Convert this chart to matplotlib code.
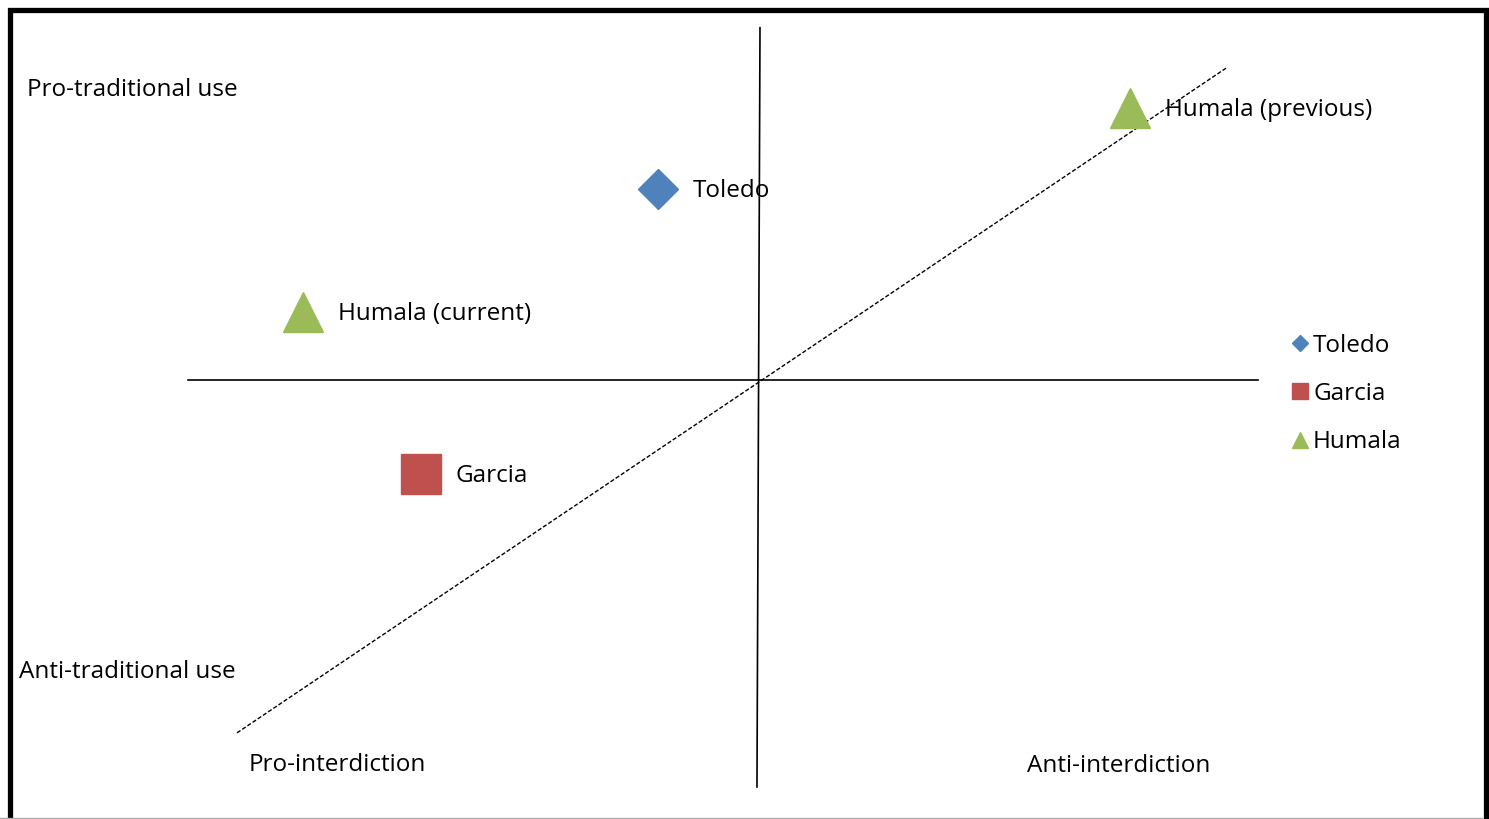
import matplotlib.pyplot as plt
from matplotlib.patches import Rectangle

# series values (chart units, origin where the two axes cross)
toledo_x = [-1.75]
toledo_y = [3.35]
garcia_x = [-5.91]
garcia_y = [-1.65]
humala_x = [-7.98, 6.53]
humala_y = [1.19, 4.77]

point_labels = ["Toledo", "Garcia", "Humala (current)", "Humala (previous)"]
point_x = toledo_x + garcia_x + humala_x
point_y = toledo_y + garcia_y + humala_y

# the cross and the diagonal
h_axis_x = [-10.0, 8.77]
h_axis_y = [0.0, 0.0]
v_axis_x = [0.035, -0.018]
v_axis_y = [6.18, -7.14]
trend_x = [-9.14, 8.21]
trend_y = [-6.19, 5.47]

corner_labels = ["Pro-traditional use", "Anti-traditional use",
                 "Pro-interdiction", "Anti-interdiction"]
corner_x = [-12.82, -12.96, -8.93, 4.72]
corner_y = [5.12, -5.09, -6.72, -6.74]

BLUE = "#4F81BD"
RED = "#C0504D"
GREEN = "#9BBB59"

plt.rcParams['font.family'] = ['Open Sans', 'DejaVu Sans']
FS = 17.5

fig = plt.figure(figsize=(14.89, 8.19), dpi=100)
ax = fig.add_axes([0, 0, 1, 1])
ax.set_xlim(-758 / 57, (1489 - 758) / 57)
ax.set_ylim((380 - 819) / 57, 380 / 57)
ax.axis("off")

ax.plot(h_axis_x, h_axis_y, color="black", lw=1.2)
ax.plot(v_axis_x, v_axis_y, color="black", lw=1.2)
ax.plot(trend_x, trend_y, color="black", lw=1.0, linestyle=(0, (3, 1.5)))

ax.plot(toledo_x, toledo_y, linestyle="none", marker="D", markersize=20.4,
        color=BLUE, label="Toledo", zorder=3)
ax.plot(garcia_x, garcia_y, linestyle="none", marker="s", markersize=28.8,
        color=RED, label="Garcia", zorder=3)
ax.plot(humala_x, humala_y, linestyle="none", marker="^", markersize=28.8,
        color=GREEN, label="Humala", zorder=3)

for lab, x, y in zip(point_labels, point_x, point_y):
    ax.annotate(lab, (x, y), xytext=(25, -1.2), textcoords="offset points",
                ha="left", va="center", fontsize=FS, zorder=4)

for lab, x, y in zip(corner_labels, corner_x, corner_y):
    ax.annotate(lab, (x, y), xytext=(0, -1.2), textcoords="offset points",
                ha="left", va="center", fontsize=FS)

ax.legend(loc="center left", bbox_to_anchor=(1290 / 1489, 1 - 394 / 819),
          frameon=False, fontsize=FS, numpoints=1, markerscale=0.42,
          handlelength=0.8, handletextpad=0.15, labelspacing=1.0,
          borderpad=0, borderaxespad=0)

# outer frame
fig.patches.append(Rectangle((10 / 1489, -0.05), 1475.5 / 1489, 1.05 - 10 / 819,
                             transform=fig.transFigure, fill=False,
                             edgecolor="black", linewidth=3.8))
fig.add_artist(plt.Line2D([0, 1482 / 1489], [1 / 819, 1 / 819],
                          transform=fig.transFigure, color="#AAAAAA", lw=1))

fig.savefig("out.png", dpi=100)
